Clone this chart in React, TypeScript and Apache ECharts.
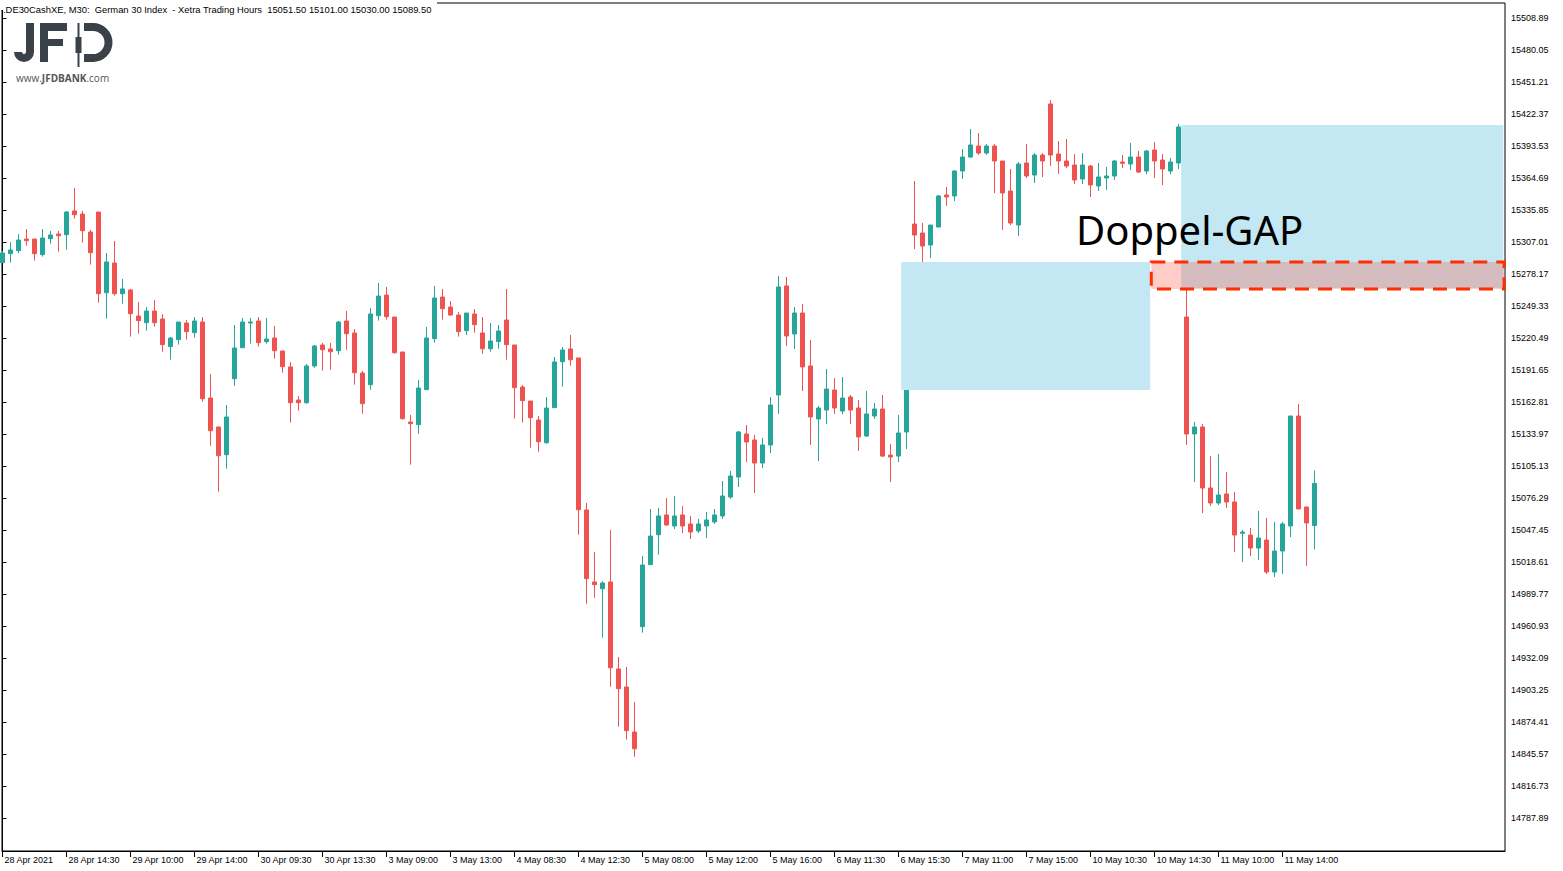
import React, { useEffect, useRef } from "react";
import * as echarts from "echarts";

// ---- OHLC data (30-minute bars, index 0 = 28 Apr 2021 10:30) ----
const opens = [
  15288.4, 15296.5, 15299.2, 15309.7, 15309.7, 15295.6, 15310.0, 15314.2, 15313.6, 15335.0,
  15332.2, 15316.0, 15334.0, 15261.3, 15288.1, 15260.4, 15263.8, 15240.3, 15234.3, 15244.8,
  15237.6, 15212.7, 15219.0, 15234.0, 15225.3, 15234.9, 15166.4, 15140.3, 15115.3, 15183.8,
  15211.7, 15234.0, 15235.8, 15217.2, 15220.5, 15208.8, 15194.4, 15164.6, 15162.2, 15195.3,
  15214.2, 15210.6, 15209.0, 15235.8, 15225.0, 15188.9, 15178.4, 15240.6, 15259.2, 15239.4,
  15207.9, 15144.8, 15142.4, 15173.9, 15219.9, 15257.4, 15248.4, 15241.2, 15227.1, 15242.1,
  15225.0, 15210.8, 15217.2, 15236.7, 15214.2, 15176.3, 15163.7, 15146.6, 15126.1, 15157.7,
  15199.1, 15210.6, 15202.5, 15065.5, 15000.6, 14994.5, 15000.6, 14922.2, 14906.0, 14865.4,
  14960.3, 15016.2, 15043.2, 15061.0, 15051.1, 15061.0, 15052.9, 15046.6, 15051.1, 15054.7,
  15060.1, 15077.2, 15095.2, 15134.0, 15128.6, 15107.8, 15124.1, 15169.1, 15267.4, 15224.1,
  15243.0, 15195.3, 15147.5, 15155.6, 15173.6, 15154.7, 15167.3, 15157.4, 15132.2, 15150.2,
  15156.5, 15115.0, 15114.1, 15135.8, 15323.2, 15315.1, 15304.3, 15320.5, 15349.4, 15348.5,
  15371.0, 15383.6, 15393.5, 15387.2, 15393.5, 15380.0, 15353.0, 15322.3, 15378.2, 15367.4,
  15385.4, 15431.4, 15386.3, 15380.0, 15376.4, 15363.8, 15375.5, 15357.5, 15364.7, 15366.5,
  15379.1, 15377.3, 15383.6, 15371.0, 15389.9, 15380.9, 15371.0, 15378.2, 15239.4, 15134.0,
  15140.3, 15085.3, 15071.8, 15079.9, 15072.7, 15044.5, 15042.9, 15031.2, 15038.4, 15009.6,
  15028.5, 15051.1, 15150.2, 15068.2, 15051.5,
];
const highs = [
  15298.9, 15307.0, 15314.2, 15318.7, 15309.7, 15318.7, 15316.9, 15316.9, 15335.0, 15355.7,
  15335.0, 15317.8, 15334.0, 15297.1, 15307.9, 15273.7, 15264.7, 15252.9, 15248.4, 15254.7,
  15242.1, 15221.4, 15234.9, 15236.7, 15239.4, 15239.4, 15188.0, 15140.3, 15160.1, 15232.2,
  15238.5, 15238.5, 15239.4, 15238.5, 15231.3, 15208.8, 15198.9, 15168.2, 15197.1, 15214.2,
  15216.0, 15216.0, 15235.8, 15244.8, 15228.6, 15190.8, 15247.5, 15270.1, 15266.5, 15239.4,
  15207.9, 15151.1, 15182.6, 15230.4, 15267.4, 15264.7, 15253.8, 15243.9, 15243.0, 15246.6,
  15239.4, 15234.0, 15232.2, 15264.7, 15214.2, 15178.1, 15163.7, 15150.2, 15167.3, 15203.4,
  15212.4, 15223.2, 15202.5, 15071.8, 15027.6, 15001.5, 15047.5, 14933.0, 14924.0, 14892.4,
  15024.0, 15066.4, 15067.3, 15076.3, 15078.1, 15069.1, 15060.1, 15057.4, 15063.7, 15066.4,
  15091.6, 15100.6, 15136.7, 15142.1, 15133.1, 15130.4, 15167.3, 15276.4, 15275.5, 15248.4,
  15251.1, 15218.7, 15159.2, 15192.6, 15184.4, 15185.3, 15169.1, 15164.6, 15172.7, 15161.9,
  15169.1, 15125.0, 15151.1, 15175.4, 15362.0, 15324.1, 15322.3, 15349.4, 15356.6, 15371.9,
  15390.8, 15408.9, 15405.2, 15395.3, 15395.3, 15380.0, 15372.8, 15379.1, 15395.3, 15387.2,
  15387.2, 15435.0, 15398.0, 15399.8, 15386.3, 15387.2, 15376.4, 15378.2, 15374.6, 15380.9,
  15385.4, 15396.2, 15389.0, 15389.9, 15397.1, 15386.3, 15382.7, 15413.4, 15265.6, 15144.8,
  15143.0, 15114.1, 15115.9, 15099.7, 15081.7, 15047.5, 15049.3, 15064.6, 15058.3, 15054.7,
  15054.7, 15150.2, 15161.0, 15068.2, 15101.0,
];
const lows = [
  15288.1, 15288.4, 15296.8, 15303.7, 15290.2, 15293.8, 15305.5, 15298.3, 15300.1, 15328.0,
  15306.4, 15286.6, 15252.3, 15237.9, 15258.6, 15251.4, 15221.7, 15224.4, 15227.1, 15230.7,
  15208.1, 15200.9, 15214.5, 15219.0, 15220.8, 15163.1, 15123.4, 15082.0, 15102.7, 15177.5,
  15211.7, 15215.4, 15212.7, 15215.4, 15201.8, 15189.2, 15144.2, 15155.0, 15161.3, 15193.7,
  15191.0, 15191.9, 15205.4, 15209.9, 15178.4, 15152.3, 15173.9, 15236.1, 15237.0, 15206.3,
  15146.9, 15106.3, 15134.2, 15173.9, 15216.3, 15237.0, 15240.6, 15221.7, 15223.2, 15225.3,
  15206.3, 15208.1, 15210.8, 15200.9, 15147.8, 15144.2, 15121.6, 15118.0, 15125.2, 15157.7,
  15176.6, 15195.5, 15043.2, 14981.0, 14986.4, 14950.4, 14906.2, 14870.2, 14858.5, 14843.1,
  14954.9, 15016.2, 15025.2, 15051.1, 15048.4, 15044.7, 15039.3, 15044.7, 15040.2, 15052.9,
  15057.4, 15075.4, 15086.2, 15108.7, 15080.8, 15103.3, 15116.8, 15152.0, 15213.3, 15210.6,
  15172.7, 15124.1, 15109.6, 15143.0, 15152.0, 15152.0, 15143.0, 15118.7, 15131.3, 15147.5,
  15113.2, 15090.7, 15108.7, 15120.5, 15300.7, 15287.2, 15292.6, 15320.5, 15339.5, 15344.0,
  15363.8, 15382.7, 15385.4, 15385.4, 15351.2, 15317.8, 15322.3, 15312.4, 15364.7, 15360.2,
  15365.6, 15375.5, 15368.3, 15373.7, 15359.3, 15359.3, 15347.6, 15353.0, 15353.9, 15362.9,
  15373.7, 15371.9, 15369.2, 15368.3, 15364.7, 15358.4, 15368.3, 15372.8, 15124.1, 15090.7,
  15062.8, 15069.1, 15070.0, 15067.3, 15027.6, 15018.6, 15024.0, 15020.4, 15007.8, 15005.1,
  15007.8, 15041.1, 15066.4, 15015.0, 15030.0,
];
const closes = [
  15297.1, 15299.8, 15308.8, 15308.2, 15296.5, 15310.6, 15313.3, 15312.7, 15334.0, 15331.6,
  15317.2, 15297.4, 15260.4, 15289.0, 15260.4, 15264.7, 15242.4, 15236.1, 15244.8, 15234.3,
  15214.5, 15220.5, 15234.9, 15226.2, 15235.8, 15165.8, 15136.9, 15114.4, 15149.3, 15211.5,
  15234.9, 15234.9, 15216.3, 15219.6, 15209.0, 15194.6, 15162.2, 15162.2, 15195.3, 15213.3,
  15209.9, 15208.1, 15234.9, 15224.4, 15189.2, 15161.3, 15242.1, 15258.3, 15239.7, 15207.2,
  15147.8, 15143.3, 15175.4, 15220.5, 15256.5, 15246.9, 15241.2, 15226.2, 15243.0, 15232.5,
  15210.8, 15217.8, 15226.8, 15214.5, 15175.7, 15164.0, 15148.7, 15127.0, 15157.4, 15198.9,
  15209.7, 15200.9, 15065.7, 15003.6, 14998.2, 14999.7, 14923.3, 14904.4, 14866.6, 14850.3,
  15015.9, 15042.0, 15060.1, 15052.0, 15060.1, 15051.1, 15045.6, 15052.9, 15056.5, 15061.0,
  15078.1, 15096.1, 15135.8, 15126.8, 15107.8, 15124.1, 15160.1, 15266.5, 15222.3, 15243.0,
  15194.4, 15149.3, 15157.4, 15174.5, 15157.4, 15166.4, 15155.6, 15131.3, 15152.0, 15156.5,
  15114.1, 15113.2, 15134.9, 15173.6, 15313.3, 15303.4, 15322.3, 15348.5, 15347.6, 15371.0,
  15383.6, 15394.4, 15387.2, 15393.5, 15380.0, 15351.2, 15324.1, 15377.3, 15366.5, 15385.4,
  15380.0, 15385.4, 15380.0, 15375.5, 15362.9, 15376.4, 15358.4, 15365.6, 15366.5, 15380.0,
  15377.9, 15383.6, 15370.1, 15389.0, 15380.0, 15372.8, 15379.1, 15410.7, 15134.0, 15140.3,
  15085.3, 15071.8, 15079.0, 15072.7, 15042.9, 15045.6, 15031.2, 15040.2, 15009.6, 15028.5,
  15052.9, 15150.2, 15066.4, 15053.8, 15089.5,
];

// ---- axis ticks ----
const xTickIndex = [0, 8, 16, 24, 32, 40, 48, 56, 64, 72, 80, 88, 96, 104, 112, 120, 128, 136, 144, 152, 160];
const xTickLabels = [
  "28 Apr 2021", "28 Apr 14:30", "29 Apr 10:00", "29 Apr 14:00", "30 Apr 09:30", "30 Apr 13:30",
  "3 May 09:00", "3 May 13:00", "4 May 08:30", "4 May 12:30", "5 May 08:00", "5 May 12:00",
  "5 May 16:00", "6 May 11:30", "6 May 15:30", "7 May 11:00", "7 May 15:00", "10 May 10:30",
  "10 May 14:30", "11 May 10:00", "11 May 14:00",
];
const yTickValues = [
  14787.89, 14816.73, 14845.57, 14874.41, 14903.25, 14932.09, 14960.93, 14989.77, 15018.61,
  15047.45, 15076.29, 15105.13, 15133.97, 15162.81, 15191.65, 15220.49, 15249.33, 15278.17,
  15307.01, 15335.85, 15364.69, 15393.53, 15422.37, 15451.21, 15480.05, 15508.89,
];

// ---- annotations (bar index / price) ----
const gapBoxStart = [112.33, 147.33];
const gapBoxEnd = [143.46, 187.6];
const gapBoxTop = [15289.0, 15412.5];
const gapBoxBottom = [15173.6, 15265.6];
const dashedBoxStart = 143.6;
const dashedBoxEnd = 187.7;
const dashedBoxTop = 15289.0;
const dashedBoxBottom = 15264.6;

const headerText =
  ".DE30CashXE, M30:\u00a0 German 30 Index\u00a0 - Xetra Trading Hours\u00a0 15051.50 15101.00 15030.00 15089.50";

const UP = "#26a69a";
const DOWN = "#ef5350";
const LOGO = "#3b4148";
const FONT = "'Liberation Sans', Arial, sans-serif";

export default function App() {
  const ref = useRef<HTMLDivElement>(null);

  useEffect(() => {
    if (!ref.current) return;
    const chart = echarts.init(ref.current, undefined, { renderer: "svg" });

    const data = opens.map((o, i) => [i, o, closes[i], lows[i], highs[i]]);

    const areas: any[] = gapBoxStart.map((s, k) => [
      { coord: [s, gapBoxTop[k]], itemStyle: { color: "#c4e8f3", opacity: 1, borderWidth: 0 } },
      { coord: [gapBoxEnd[k], gapBoxBottom[k]] },
    ]);
    areas.push([
      {
        coord: [dashedBoxStart, dashedBoxTop],
        itemStyle: {
          color: "rgba(255,70,50,0.27)",
          opacity: 1,
          borderColor: "#ff2d00",
          borderWidth: 3,
          borderType: [14, 9],
        },
      },
      { coord: [dashedBoxEnd, dashedBoxBottom] },
    ]);

    const xMin = -0.0625;
    const plotW = 1503;

    const option: any = {
      animation: false,
      backgroundColor: "#ffffff",
      textStyle: { fontFamily: FONT },
      grid: {
        left: 2,
        top: 3,
        width: plotW,
        height: 848,
        show: true,
        borderColor: "#000",
        borderWidth: 1,
        backgroundColor: "transparent",
      },
      xAxis: {
        type: "value",
        min: xMin,
        max: xMin + plotW / 8,
        axisLine: { show: true, lineStyle: { color: "#000", width: 1 } },
        splitLine: { show: false },
        axisTick: { show: true, customValues: xTickIndex, length: 6, lineStyle: { color: "#000" } },
        axisLabel: {
          customValues: xTickIndex,
          formatter: (v: number) => {
            const k = xTickIndex.indexOf(Math.round(v));
            return k >= 0 ? xTickLabels[k] : "";
          },
          align: "left",
          verticalAlign: "top",
          margin: 4,
          padding: [0, 0, 0, 2],
          color: "#000",
          fontSize: 9,
          fontFamily: FONT,
          hideOverlap: false,
        },
      },
      yAxis: {
        type: "value",
        position: "right",
        min: 14758.15,
        max: 15522.41,
        axisLine: { show: true, lineStyle: { color: "#000", width: 1 } },
        splitLine: { show: false },
        axisTick: { show: true, customValues: yTickValues, length: 4, lineStyle: { color: "#000" } },
        axisLabel: {
          customValues: yTickValues,
          formatter: (v: number) => v.toFixed(2),
          margin: 6,
          color: "#000",
          fontSize: 9,
          fontFamily: FONT,
          align: "left",
        },
      },
      series: [
        {
          type: "candlestick",
          data,
          encode: { x: 0, y: [1, 2, 3, 4] },
          barWidth: 4,
          itemStyle: {
            color: UP,
            color0: DOWN,
            borderColor: UP,
            borderColor0: DOWN,
            borderWidth: 1,
          },
          markArea: {
            silent: true,
            z: 5,
            label: { show: false },
            emphasis: { disabled: true },
            data: areas,
          },
        },
      ],
      graphic: [
        // header background covering frame
        { type: "rect", z: 100, shape: { x: 0, y: 0, width: 437, height: 10 }, style: { fill: "#fff" } },
        {
          type: "text",
          z: 101,
          x: 3,
          y: 9,
          style: {
            text: headerText,
            fill: "#000",
            font: `9.4px ${FONT}`,
            textVerticalAlign: "middle",
          },
        },
        // logo: J
        { type: "rect", z: 100, shape: { x: 26, y: 23, width: 8, height: 29 }, style: { fill: LOGO } },
        {
          type: "sector",
          z: 100,
          shape: { cx: 24, cy: 52, r: 10, r0: 2, startAngle: 0, endAngle: Math.PI, clockwise: true },
          style: { fill: LOGO },
        },
        // F
        { type: "rect", z: 100, shape: { x: 40, y: 23, width: 8, height: 39 }, style: { fill: LOGO } },
        { type: "rect", z: 100, shape: { x: 40, y: 23, width: 27, height: 8 }, style: { fill: LOGO } },
        { type: "rect", z: 100, shape: { x: 40, y: 39, width: 23, height: 7 }, style: { fill: LOGO } },
        // candle
        { type: "rect", z: 100, shape: { x: 77.5, y: 23, width: 2, height: 44 }, style: { fill: LOGO } },
        { type: "rect", z: 100, shape: { x: 75.5, y: 37, width: 6, height: 16 }, style: { fill: LOGO } },
        // D
        { type: "rect", z: 100, shape: { x: 84, y: 23, width: 10, height: 8 }, style: { fill: LOGO } },
        { type: "rect", z: 100, shape: { x: 84, y: 54, width: 10, height: 8 }, style: { fill: LOGO } },
        {
          type: "sector",
          z: 100,
          shape: { cx: 93, cy: 42.5, r: 19.5, r0: 11.5, startAngle: -Math.PI / 2, endAngle: Math.PI / 2, clockwise: true },
          style: { fill: LOGO },
        },
        {
          type: "text",
          z: 100,
          x: 16,
          y: 78,
          style: {
            text: "{a|www.}{b|JFDBANK}{a|.com}",
            textVerticalAlign: "middle",
            rich: {
              a: { fontSize: 10, fill: "#555", fontFamily: "'Open Sans', sans-serif" },
              b: { fontSize: 10, fill: "#555", fontWeight: "bold", fontFamily: "'Open Sans', sans-serif" },
            },
          },
        },
        // annotation text
        {
          type: "text",
          z: 100,
          x: 1076,
          y: 209,
          style: {
            text: "Doppel-GAP",
            fill: "#000",
            font: "40px 'Noto Sans', sans-serif",
            textVerticalAlign: "top",
          },
        },
      ],
    };

    chart.setOption(option);
    return () => {
      chart.dispose();
    };
  }, []);

  return (
    <div
      ref={ref}
      style={{ position: "fixed", left: 0, top: 0, width: 1563, height: 871, background: "#fff" }}
    />
  );
}
